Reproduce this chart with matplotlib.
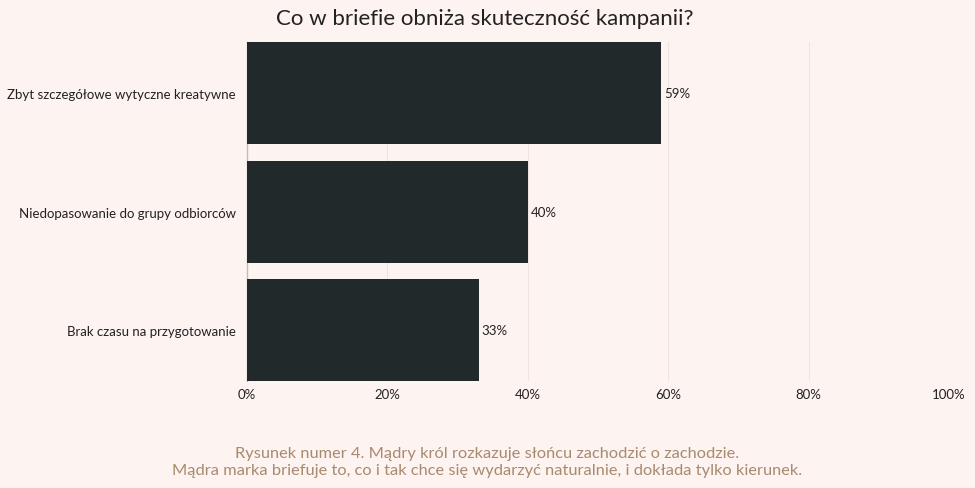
import matplotlib.pyplot as plt
from matplotlib.ticker import FuncFormatter

plt.rcParams['font.family'] = ['Lato', 'DejaVu Sans']

categories = ['Zbyt szczegółowe wytyczne kreatywne',
              'Niedopasowanie do grupy odbiorców',
              'Brak czasu na przygotowanie']
values = [59, 40, 33]
ticks = [0, 20, 40, 60, 80, 100]

bg = '#fdf3f1'
bar_color = '#22292b'
caption_color = '#a88a6e'

fig = plt.figure(figsize=(9.75, 4.89), dpi=100, facecolor=bg)
ax = fig.add_axes([0.2533, 0.2188, 0.72, 0.693])
ax.set_facecolor(bg)

pos = range(len(categories))
bars = ax.barh(pos, values, height=0.86, color=bar_color, zorder=3)
for b, v in zip(bars, values):
    ax.text(b.get_width() + 0.4, b.get_y() + b.get_height() / 2, f'{v}%',
            va='center', ha='left', fontsize=9.5, color='#222222')

ax.set_ylim(2.43, -0.43)
ax.set_xlim(0, 100)
ax.set_yticks(list(pos))
ax.set_yticklabels(categories, fontsize=9.5, color='#222222')
ax.set_xticks(ticks)
ax.xaxis.set_major_formatter(FuncFormatter(lambda x, p: f'{int(x)}%'))
ax.tick_params(axis='x', labelsize=9.5, colors='#222222', length=0, pad=5)
ax.tick_params(axis='y', length=0, pad=8)
ax.grid(axis='x', color='#efe4e1', linewidth=0.8, zorder=0)
for s in ['top', 'right', 'bottom']:
    ax.spines[s].set_visible(False)
ax.spines['left'].set_color('#c4bcba')
ax.spines['left'].set_linewidth(1)

fig.text(0.497, 0.962, 'Co w briefie obniża skuteczność kampanii?',
         ha='center', va='center', fontsize=16, color='#222222')
fig.text(0.5, 0.054,
         'Rysunek numer 4. Mądry król rozkazuje słońcu zachodzić o zachodzie.\n'
         'Mądra marka briefuje to, co i tak chce się wydarzyć naturalnie, i dokłada tylko kierunek.',
         ha='center', va='center', fontsize=11.8, color=caption_color, linespacing=1.2)

fig.savefig('out.png', dpi=100, facecolor=bg)
